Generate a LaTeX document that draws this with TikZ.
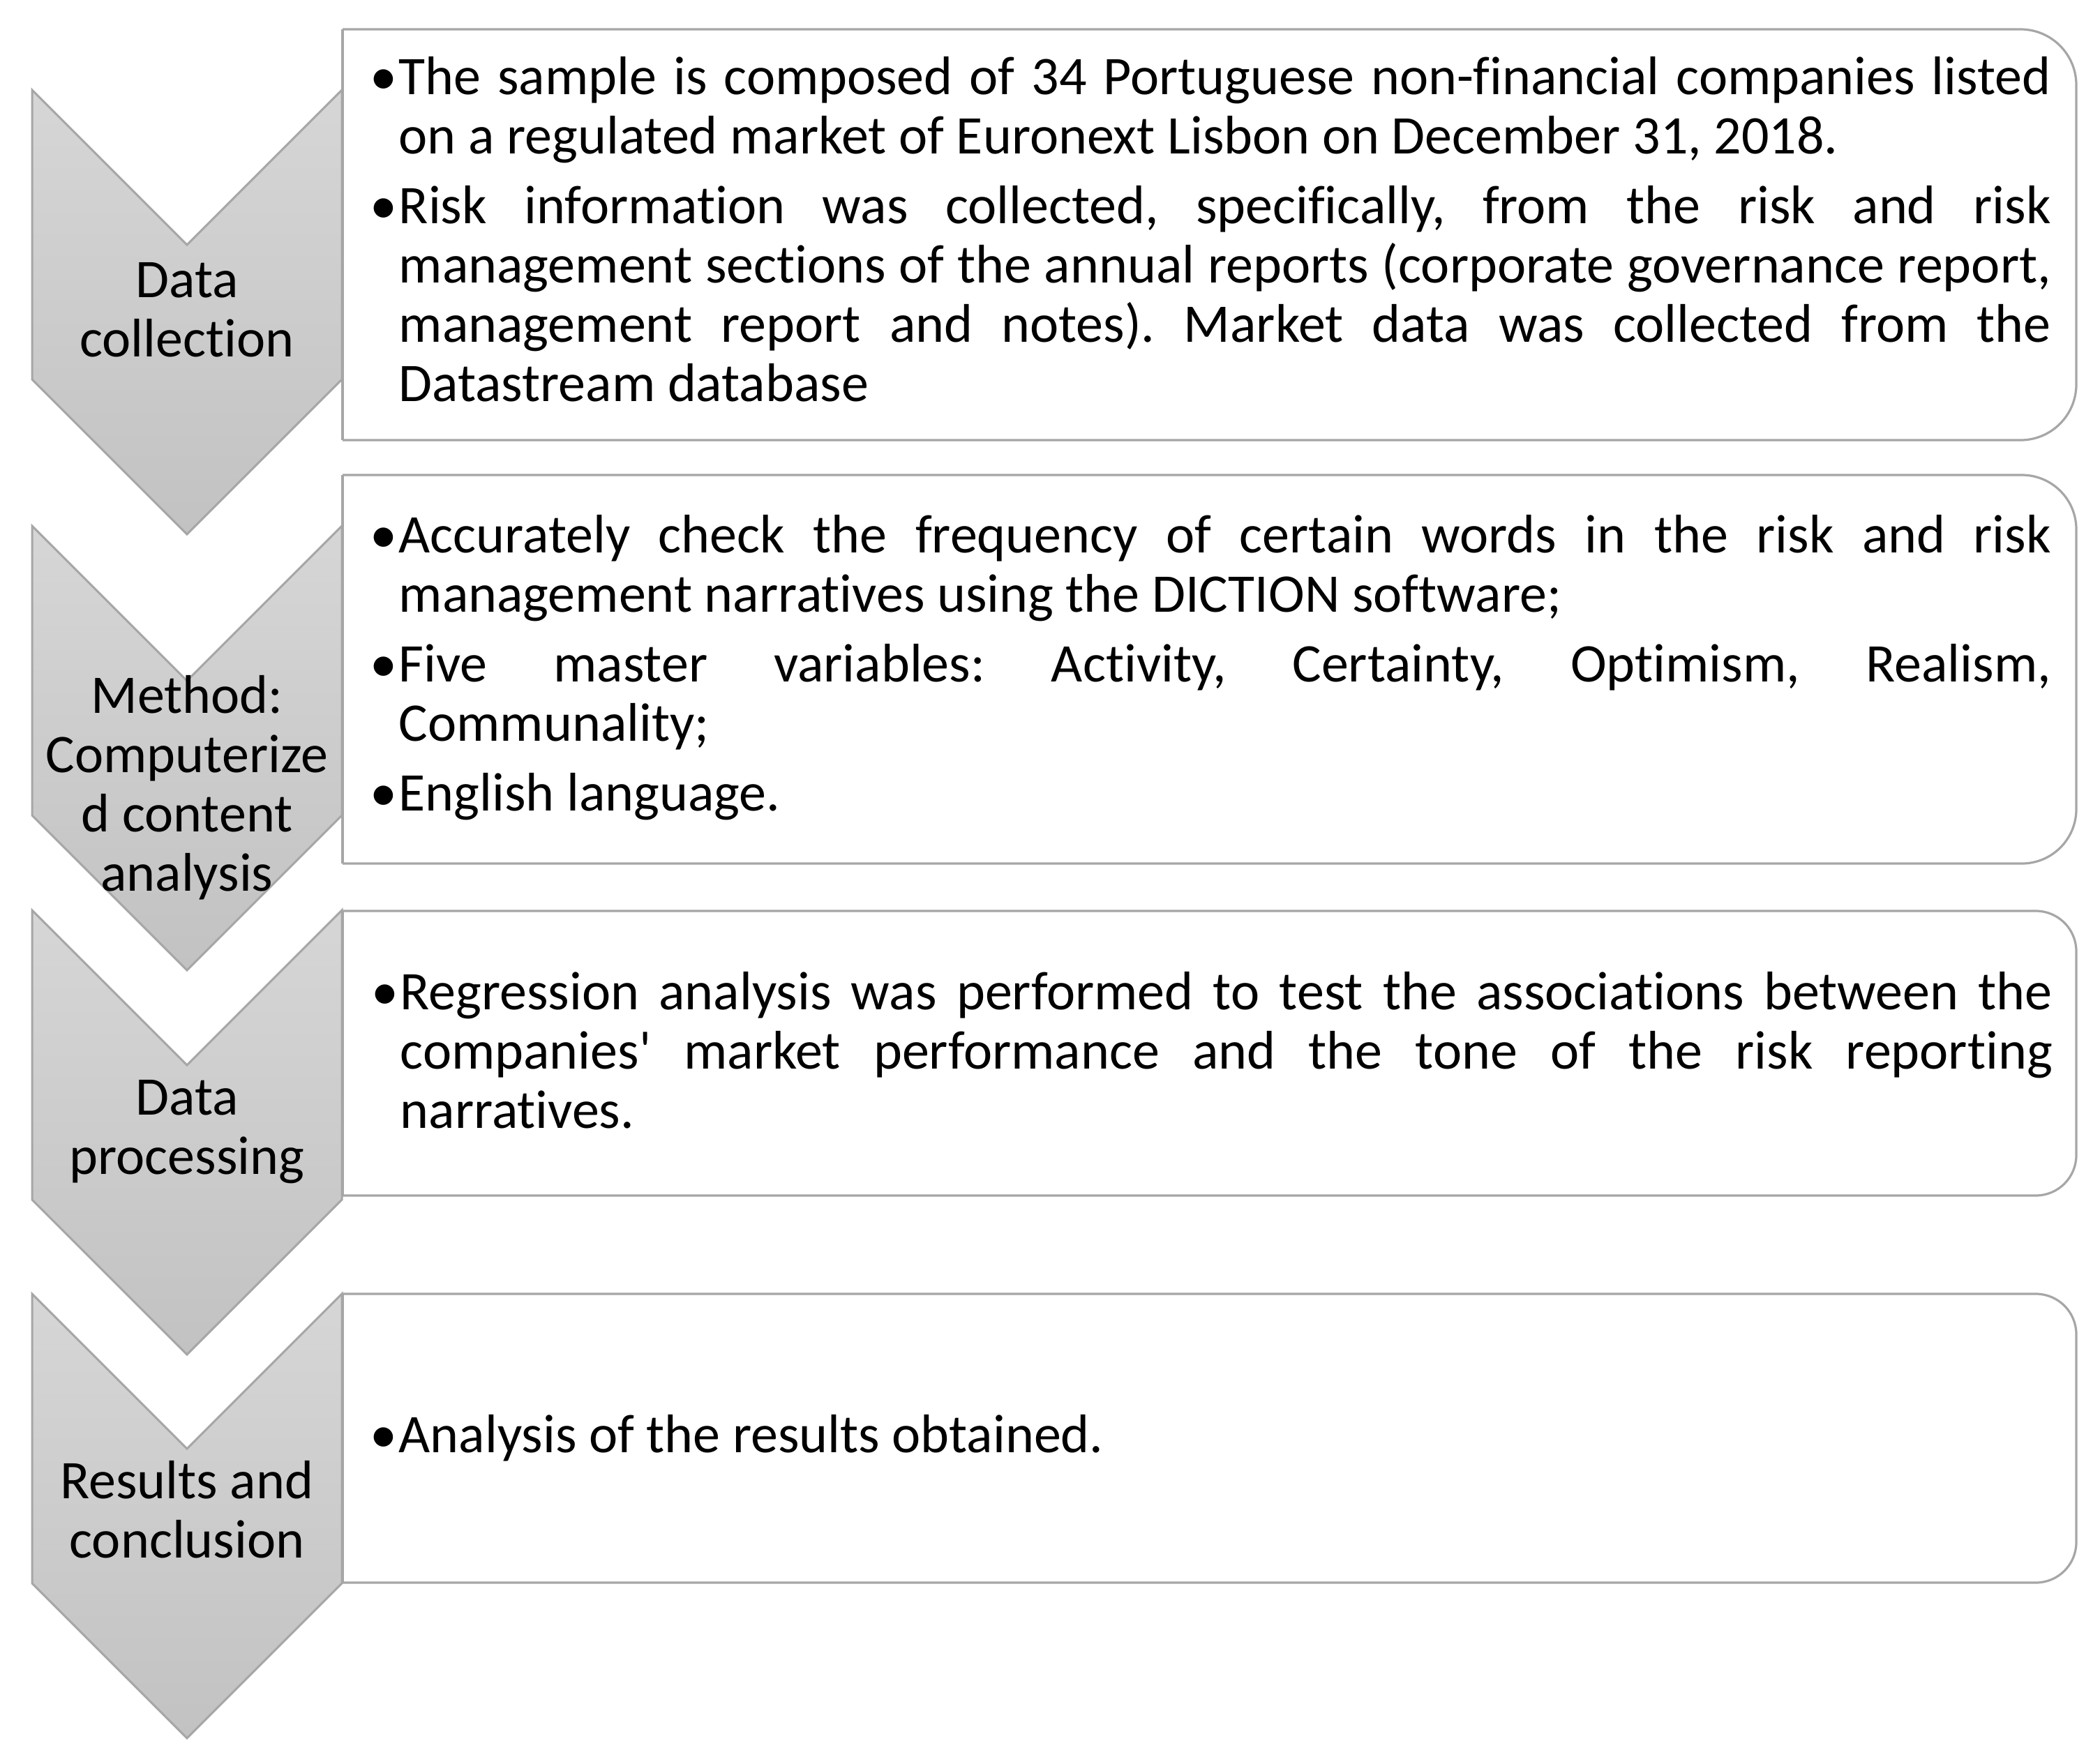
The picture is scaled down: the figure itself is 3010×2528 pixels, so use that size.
\documentclass[tikz,border=0pt]{standalone}
\usepackage{fontspec}
\setmainfont[Ligatures={NoCommon}]{Carlito}
\definecolor{chtop}{RGB}{214,214,214}
\definecolor{chbot}{RGB}{194,194,194}
\definecolor{edgegray}{RGB}{166,166,166}
\newlength\tw
\setlength\tw{592pt}
\newcommand\jl[1]{\makebox[\tw][s]{#1}\par}
\newcommand\lastline[1]{\leavevmode#1\par}
\newcommand\bul{\leavevmode\llap{•\hspace{0.6pt}}}
\newcommand\pgap{\vspace{3.75pt}}
\newcommand\txtfont{\fontsize{19.5}{21.25}\selectfont}
\tikzset{
  chev/.style={draw=edgegray, line width=0.75pt, top color=chtop, bottom color=chbot},
  boxline/.style={draw=edgegray, line width=0.8pt},
  lbl/.style={anchor=base, inner sep=0pt, font=\txtfont},
  txt/.style={anchor=base west, inner sep=0pt, font=\txtfont}
}
\newcommand\listbox[3]{%
  \draw[boxline, rounded corners=#3] (491,#1) -- (2976,#1) -- (2976,#2) -- (491,#2);
  \draw[boxline] (491,#1) -- (491,#2);}
\newcommand\chevshape[1]{%
  \filldraw[chev] (46,#1) -- (268,{#1+222}) -- (490,#1) -- (490,{#1+415}) -- (268,{#1+637}) -- (46,{#1+415}) -- cycle;}
\begin{document}
\frenchspacing
\begin{tikzpicture}[x=0.25pt, y=-0.25pt]
\useasboundingbox (0,0) rectangle (3010,2528);
% boxes
\listbox{42}{631}{20pt}
\listbox{681}{1238}{19.5pt}
\listbox{1306}{1714}{14.5pt}
\listbox{1855}{2269}{14.5pt}
% chevrons
\chevshape{129}
\chevshape{754}
\chevshape{1305}
\chevshape{1855}
% chevron labels
\node[lbl] (c1) at (268,426) {\parbox[t]{120pt}{\centering Data\\collection}};
\node[lbl] (c2) at (268,1022) {\parbox[t]{120pt}{\centering Method:\\Computerize\\d content\\analysis}};
\node[lbl] (c3) at (268,1598) {\parbox[t]{120pt}{\centering Data\\processing}};
\node[lbl] (c4) at (268,2148) {\parbox[t]{120pt}{\centering Results and\\conclusion}};
% box texts
\node[txt] (t1) at (571,135) {\parbox[t]{\tw}{\frenchspacing\parindent0pt\parskip0pt
\jl{\bul The sample is composed of 34 Portuguese non-financial companies listed}
\lastline{on a regulated market of Euronext Lisbon on December 31, 2018.}
\pgap
\jl{\bul Risk information was collected, specifically, from the risk and risk}
\jl{management sections of the annual reports (corporate governance report,}
\jl{management report and notes). Market data was collected from the}
\lastline{Datastream database}}};
\node[txt] (t2) at (571,792) {\parbox[t]{\tw}{\frenchspacing\parindent0pt\parskip0pt
\jl{\bul Accurately check the frequency of certain words in the risk and risk}
\lastline{management narratives using the DICTION software;}
\pgap
\jl{\bul Five master variables: Activity, Certainty, Optimism, Realism,}
\lastline{Communality;}
\pgap
\lastline{\bul English language.}}};
\node[txt] (t3) at (573,1447) {\parbox[t]{\tw}{\frenchspacing\parindent0pt\parskip0pt
\jl{\bul Regression analysis was performed to test the associations between the}
\jl{companies\textquotesingle{} market performance and the tone of the risk reporting}
\lastline{narratives.}}};
\node[txt] (t4) at (571,2082) {\parbox[t]{\tw}{\frenchspacing\parindent0pt\parskip0pt
\lastline{\bul Analysis of the results obtained.}}};
\end{tikzpicture}
\end{document}
